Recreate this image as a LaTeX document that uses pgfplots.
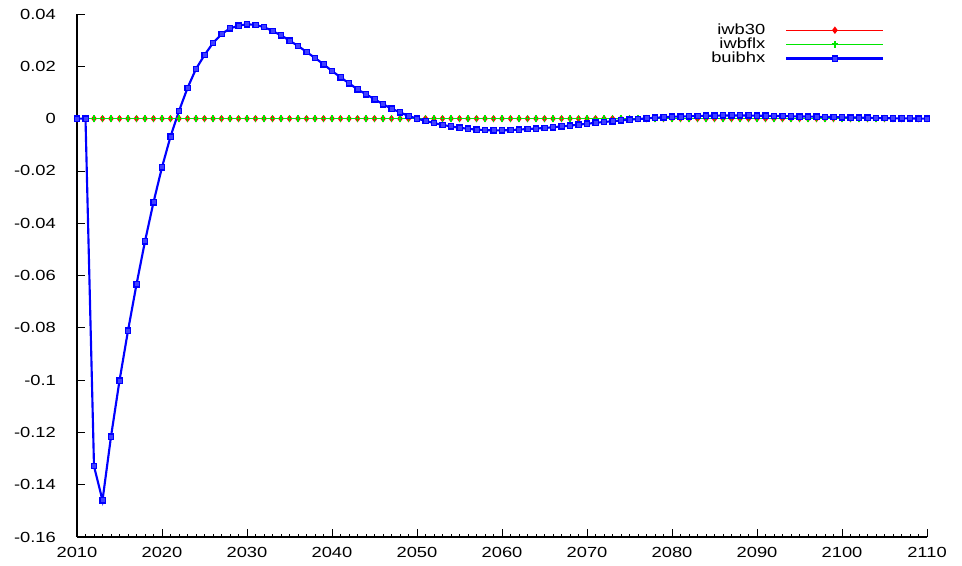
\documentclass[border=0pt]{standalone}
\usepackage{fontspec}
\setmainfont{Liberation Sans}
\usepackage{pgfplots}
\usepackage{pgfplotstable}
\pgfplotsset{compat=1.18}
\usepackage{graphicx}
\pgfplotstableread{
year a b c
2010 0 0 0
2011 0 0 0
2012 0 0 -0.1329
2013 0 0 -0.1460
2014 0 0 -0.1216
2015 0 0 -0.1002
2016 0 0 -0.0811
2017 0 0 -0.0634
2018 0 0 -0.0469
2019 0 0 -0.0320
2020 0 0 -0.0186
2021 0 0 -0.0069
2022 0 0 0.0029
2023 0 0 0.0117
2024 0 0 0.0190
2025 0 0 0.0243
2026 0 0 0.0289
2027 0 0 0.0323
2028 0 0 0.0345
2029 0 0 0.0355
2030 0 0 0.0361
2031 0 0 0.0358
2032 0 0 0.0350
2033 0 0 0.0335
2034 0 0 0.0319
2035 0 0 0.0298
2036 0 0 0.0278
2037 0 0 0.0255
2038 0 0 0.0232
2039 0 0 0.0208
2040 0 0 0.0182
2041 0 0 0.0158
2042 0 0 0.0135
2043 0 0 0.0112
2044 0 0 0.0093
2045 0 0 0.0074
2046 0 0 0.0055
2047 0 0 0.0038
2048 0 0 0.0024
2049 0 0 0.0010
2050 0 0 0.0000
2051 0 0 -0.0009
2052 0 0 -0.0017
2053 0 0 -0.0024
2054 0 0 -0.0030
2055 0 0 -0.0035
2056 0 0 -0.0039
2057 0 0 -0.0042
2058 0 0 -0.0044
2059 0 0 -0.0045
2060 0 0 -0.0045
2061 0 0 -0.0044
2062 0 0 -0.0042
2063 0 0 -0.0040
2064 0 0 -0.0038
2065 0 0 -0.0036
2066 0 0 -0.0033
2067 0 0 -0.0030
2068 0 0 -0.0027
2069 0 0 -0.0023
2070 0 0 -0.0020
2071 0 0 -0.0016
2072 0 0 -0.0013
2073 0 0 -0.0010
2074 0 0 -0.0007
2075 0 0 -0.0004
2076 0 0 -0.0002
2077 0 0 0.0001
2078 0 0 0.0003
2079 0 0 0.0005
2080 0 0 0.0007
2081 0 0 0.0008
2082 0 0 0.0009
2083 0 0 0.0010
2084 0 0 0.0011
2085 0 0 0.0011
2086 0 0 0.0012
2087 0 0 0.0012
2088 0 0 0.0012
2089 0 0 0.0012
2090 0 0 0.0011
2091 0 0 0.0011
2092 0 0 0.0010
2093 0 0 0.0010
2094 0 0 0.0009
2095 0 0 0.0008
2096 0 0 0.0008
2097 0 0 0.0007
2098 0 0 0.0006
2099 0 0 0.0006
2100 0 0 0.0005
2101 0 0 0.0004
2102 0 0 0.0004
2103 0 0 0.0003
2104 0 0 0.0002
2105 0 0 0.0002
2106 0 0 0.0001
2107 0 0 0.0001
2108 0 0 0.0001
2109 0 0 0.0000
2110 0 0 0.0000
}\data
\definecolor{gpred}{RGB}{255,0,0}
\definecolor{gpgreen}{RGB}{0,230,0}
\definecolor{gpblue}{RGB}{0,0,255}
\newcommand{\wide}[1]{\scalebox{1.25}[1]{#1}}
\pgfplotsset{
  redstyle/.style={color=gpred, line width=1pt, mark=diamond*, mark size=2pt, mark options={solid,fill=gpred}},
  greenstyle/.style={color=gpgreen, line width=1pt, mark=+, mark size=2.5pt, mark options={solid,line width=1.3pt}},
  bluestyle/.style={color=gpblue, line width=1.6pt, mark=square*, mark size=2pt, mark options={solid,line width=1pt,draw=gpblue,fill=gpblue!75}},
}
\begin{document}
\fontsize{11}{12}\selectfont
\begin{tikzpicture}
\useasboundingbox (0pt,0pt) rectangle (721.5pt,423.75pt);
\begin{axis}[
  at={(57.75pt,21pt)}, anchor=south west,
  scale only axis, width=637.5pt, height=392.25pt,
  xmin=2010, xmax=2110, ymin=-0.16, ymax=0.04,
  axis x line*=bottom, axis y line*=left,
  axis line style={line width=0.8pt},
  tick align=inside,
  xtick={2010,2020,...,2110},
  minor x tick num=9,
  ytick={-0.16,-0.14,-0.12,-0.1,-0.08,-0.06,-0.04,-0.02,0,0.02,0.04},
  major tick length=6pt, minor tick length=2.5pt,
  tick style={black, line width=0.6pt},
  scaled y ticks=false,
  xticklabel={\wide{\pgfmathprintnumber[assume math mode=true,1000 sep=]{\tick}}},
  yticklabel={\wide{\pgfmathprintnumber[assume math mode=true,fixed,precision=2]{\tick}}},
  xticklabel style={yshift=-4pt},
  yticklabel style={xshift=-12pt},
  clip=false,
  legend plot pos=right,
  legend cell align=right,
  legend style={draw=none, fill=none, at={(0.955,0.992)}, anchor=north east,
    row sep=-3pt, font=\fontsize{11}{12}\selectfont},
  legend image code/.code={
    \draw[mark repeat=2,mark phase=2] plot coordinates {(0pt,0pt) (36.4pt,0pt) (72.8pt,0pt)};
  },
]
\addlegendimage{redstyle}
\addlegendentry{\wide{iwb30}\rule{13pt}{0pt}}
\addlegendimage{greenstyle}
\addlegendentry{\wide{iwbflx}\rule{13pt}{0pt}}
\addlegendimage{bluestyle}
\addlegendentry{\wide{buibhx}\rule{13pt}{0pt}}
\addplot[redstyle, forget plot] table[x=year,y=a] {\data};
\addplot[greenstyle, forget plot] table[x=year,y=b] {\data};
\addplot[bluestyle, forget plot] table[x=year,y=c] {\data};
\end{axis}
\end{tikzpicture}
\end{document}
